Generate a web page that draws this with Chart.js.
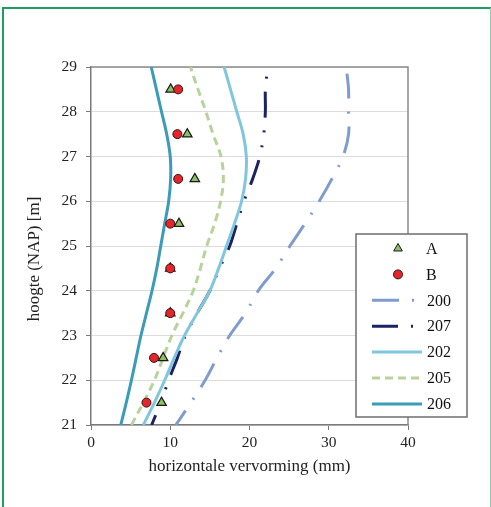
<!DOCTYPE html>
<html><head><meta charset="utf-8">
<script src="https://cdn.jsdelivr.net/npm/chart.js@4.4.0/dist/chart.umd.min.js"></script>
<style>
html,body{margin:0;padding:0;background:#fff;}
#wrap{position:relative;width:491px;height:507px;overflow:hidden;background:#fff;}
#frame{position:absolute;left:2px;top:7px;width:489px;height:530px;border-left:2px solid #1f9d63;border-top:2px solid #1f9d63;border-right:1.5px solid #8fcfae;box-sizing:border-box;}
canvas{position:absolute;left:0;top:0;}
</style></head><body>
<div id="wrap"><div id="frame"></div><canvas id="c" width="491" height="507"></canvas></div>
<script>
// heights (m NAP) and horizontal deformation (mm)
const H_LINES   = [21,21.5,22,22.5,23,23.5,24,24.5,25,25.5,26,26.5,27,27.5,28,28.5,29];
const S206      = [3.75,4.45,5.1,5.7,6.3,7.0,7.7,8.3,8.8,9.3,9.8,10.05,10.0,9.55,8.9,8.25,7.6];
const S202      = [6.6,8.0,9.3,10.5,11.8,13.4,15.0,16.1,17.1,18.1,19.0,19.5,19.6,19.2,18.4,17.6,16.8];
const S205      = [5.1,6.6,8.0,9.1,10.2,11.6,12.9,13.8,14.6,15.6,16.35,16.7,16.4,15.4,14.5,13.5,12.55];
const H_DASHDOT = [21,21.5,22,22.5,23,23.5,24,24.5,25,25.5,26,26.5,27,27.5,28,28.5,28.85];
const S207      = [7.65,8.8,9.8,10.9,11.9,13.4,15.0,16.2,17.5,18.4,19.3,20.4,21.3,21.8,22.0,22.0,22.2];
const S200      = [10.7,12.6,14.4,15.9,17.5,19.5,21.1,23.3,25.1,27.0,28.8,30.4,31.8,32.5,32.5,32.5,32.3];
const H_MEAS    = [21.5,22.5,23.5,24.5,25.5,26.5,27.5,28.5];
const A_VALS    = [8.9,9.1,10.0,10.0,11.1,13.1,12.15,10.05];
const B_VALS    = [7.0,7.95,10.0,10.0,10.0,11.0,10.9,11.0];
const X_TICKS   = [0,10,20,30,40];
const Y_TICKS   = [21,22,23,24,25,26,27,28,29];
const LEGEND_ORDER = ['A','B','200','207','202','205','206'];
const X_TITLE = 'horizontale vervorming (mm)';
const Y_TITLE = 'hoogte (NAP) [m]';

const pts = (hs, vs) => hs.map((h,i) => ({x: vs[i], y: h}));
const SERIF = "'Liberation Serif','Times New Roman',serif";

const datasets = [
  {label:'B', data: pts(H_MEAS,B_VALS), pointStyle:'circle', pointRadius:4.5, backgroundColor:'#e3262b', borderColor:'#3a1010', pointBorderWidth:1, showLine:false, order:0},
  {label:'A', data: pts(H_MEAS,A_VALS), pointStyle:'triangle', pointRadius:5.5, backgroundColor:'#8cc063', borderColor:'#1a1a1a', pointBorderWidth:1.2, showLine:false, order:1},
  {label:'206', data: pts(H_LINES,S206), borderColor:'#3b9bb8', borderWidth:3, showLine:true, pointRadius:0, tension:0.35, order:2},
  {label:'205', data: pts(H_LINES,S205), borderColor:'#b6d39a', borderWidth:3, borderDash:[8,5], showLine:true, pointRadius:0, tension:0.35, order:3},
  {label:'202', data: pts(H_LINES,S202), borderColor:'#80c6dc', borderWidth:3, showLine:true, pointRadius:0, tension:0.35, order:4},
  {label:'207', data: pts(H_DASHDOT,S207), borderColor:'#1c2266', borderWidth:3, borderDash:[26,13,2,13,2,13], borderDashOffset:15.5, showLine:true, pointRadius:0, tension:0.35, order:5},
  {label:'200', data: pts(H_DASHDOT,S200), borderColor:'#7f9ccf', borderWidth:3, borderDash:[27,13,2,13], borderDashOffset:9.5, showLine:true, pointRadius:0, tension:0.35, order:6}
];

const framePlugin = {
  id:'frame',
  beforeDatasetsDraw(chart){
    const {ctx, chartArea:a} = chart;
    ctx.save();
    ctx.strokeStyle = '#8a8a8a'; ctx.lineWidth = 1.5;
    ctx.beginPath();
    ctx.moveTo(a.left, a.top); ctx.lineTo(a.right, a.top); ctx.lineTo(a.right, a.bottom);
    ctx.stroke();
    ctx.restore();
  },
  afterDraw(chart){
    const ctx = chart.ctx;
    ctx.save();
    ctx.font = '17px ' + SERIF;
    ctx.fillStyle = '#222';
    ctx.textAlign = 'center'; ctx.textBaseline = 'middle';
    ctx.translate(35, 259);
    ctx.rotate(-Math.PI/2);
    ctx.fillText(Y_TITLE, 0, 0);
    ctx.restore();
  }
};

const legendPlugin = {
  id:'customLegend',
  afterDraw(chart){
    const ctx = chart.ctx;
    const bx = 356, by = 234, bw = 111, bh = 183;
    ctx.save();
    ctx.fillStyle = '#fff';
    ctx.fillRect(bx, by, bw, bh);
    ctx.strokeStyle = '#6e6e6e'; ctx.lineWidth = 1.5;
    ctx.strokeRect(bx, by, bw, bh);
    const rowY0 = 248.5, rowStep = 25.9;
    ctx.font = '16px ' + SERIF;
    ctx.textBaseline = 'middle';
    LEGEND_ORDER.forEach((lab, i) => {
      const ds = chart.data.datasets.find(d => d.label === lab);
      const y = rowY0 + i*rowStep;
      ctx.save();
      if (ds.showLine) {
        ctx.strokeStyle = ds.borderColor; ctx.lineWidth = ds.borderWidth;
        ctx.setLineDash(ds.borderDash || []);
        ctx.beginPath(); ctx.moveTo(372, y); ctx.lineTo(422, y); ctx.stroke();
      } else {
        ctx.fillStyle = ds.backgroundColor; ctx.strokeStyle = ds.borderColor; ctx.lineWidth = 1;
        ctx.beginPath();
        if (ds.pointStyle === 'circle') { ctx.arc(398, y, 4.5, 0, Math.PI*2); }
        else { const r = 5; ctx.moveTo(398, y - r); ctx.lineTo(398 + r*0.866, y + r*0.5); ctx.lineTo(398 - r*0.866, y + r*0.5); ctx.closePath(); }
        ctx.fill(); ctx.stroke();
      }
      ctx.restore();
      ctx.fillStyle = '#111';
      ctx.fillText(lab, lab.length === 1 ? 426 : 427, y + 1);
    });
    ctx.restore();
  }
};

new Chart(document.getElementById('c'), {
  type:'scatter',
  data:{datasets},
  options:{
    responsive:false, animation:false, devicePixelRatio:1,
    layout:{padding:{left:22, right:83, top:67, bottom:22}},
    plugins:{legend:{display:false}, tooltip:{enabled:false}},
    scales:{
      x:{
        type:'linear', min:0, max:40,
        afterBuildTicks: s => { s.ticks = X_TICKS.map(v => ({value:v})); },
        afterFit: s => { s.height = 60; },
        grid:{drawOnChartArea:false, tickLength:5, tickColor:'#7a7a7a'},
        border:{color:'#7a7a7a', width:1.5},
        ticks:{font:{family:SERIF, size:15.5}, color:'#222', padding:4, maxRotation:0},
        title:{display:true, text:X_TITLE, font:{family:SERIF, size:17}, color:'#222', padding:{top:2, bottom:8}}
      },
      y:{
        type:'linear', min:21, max:29,
        afterBuildTicks: s => { s.ticks = Y_TICKS.map(v => ({value:v})); },
        afterFit: s => { s.width = 69; },
        grid:{color:'#dcdcdc', lineWidth:1, tickLength:5, tickColor:'#7a7a7a'},
        border:{color:'#7a7a7a', width:1.5},
        ticks:{font:{family:SERIF, size:15.5}, color:'#222', padding:9},
        title:{display:false}
      }
    }
  },
  plugins:[framePlugin, legendPlugin]
});
</script>
</body></html>
